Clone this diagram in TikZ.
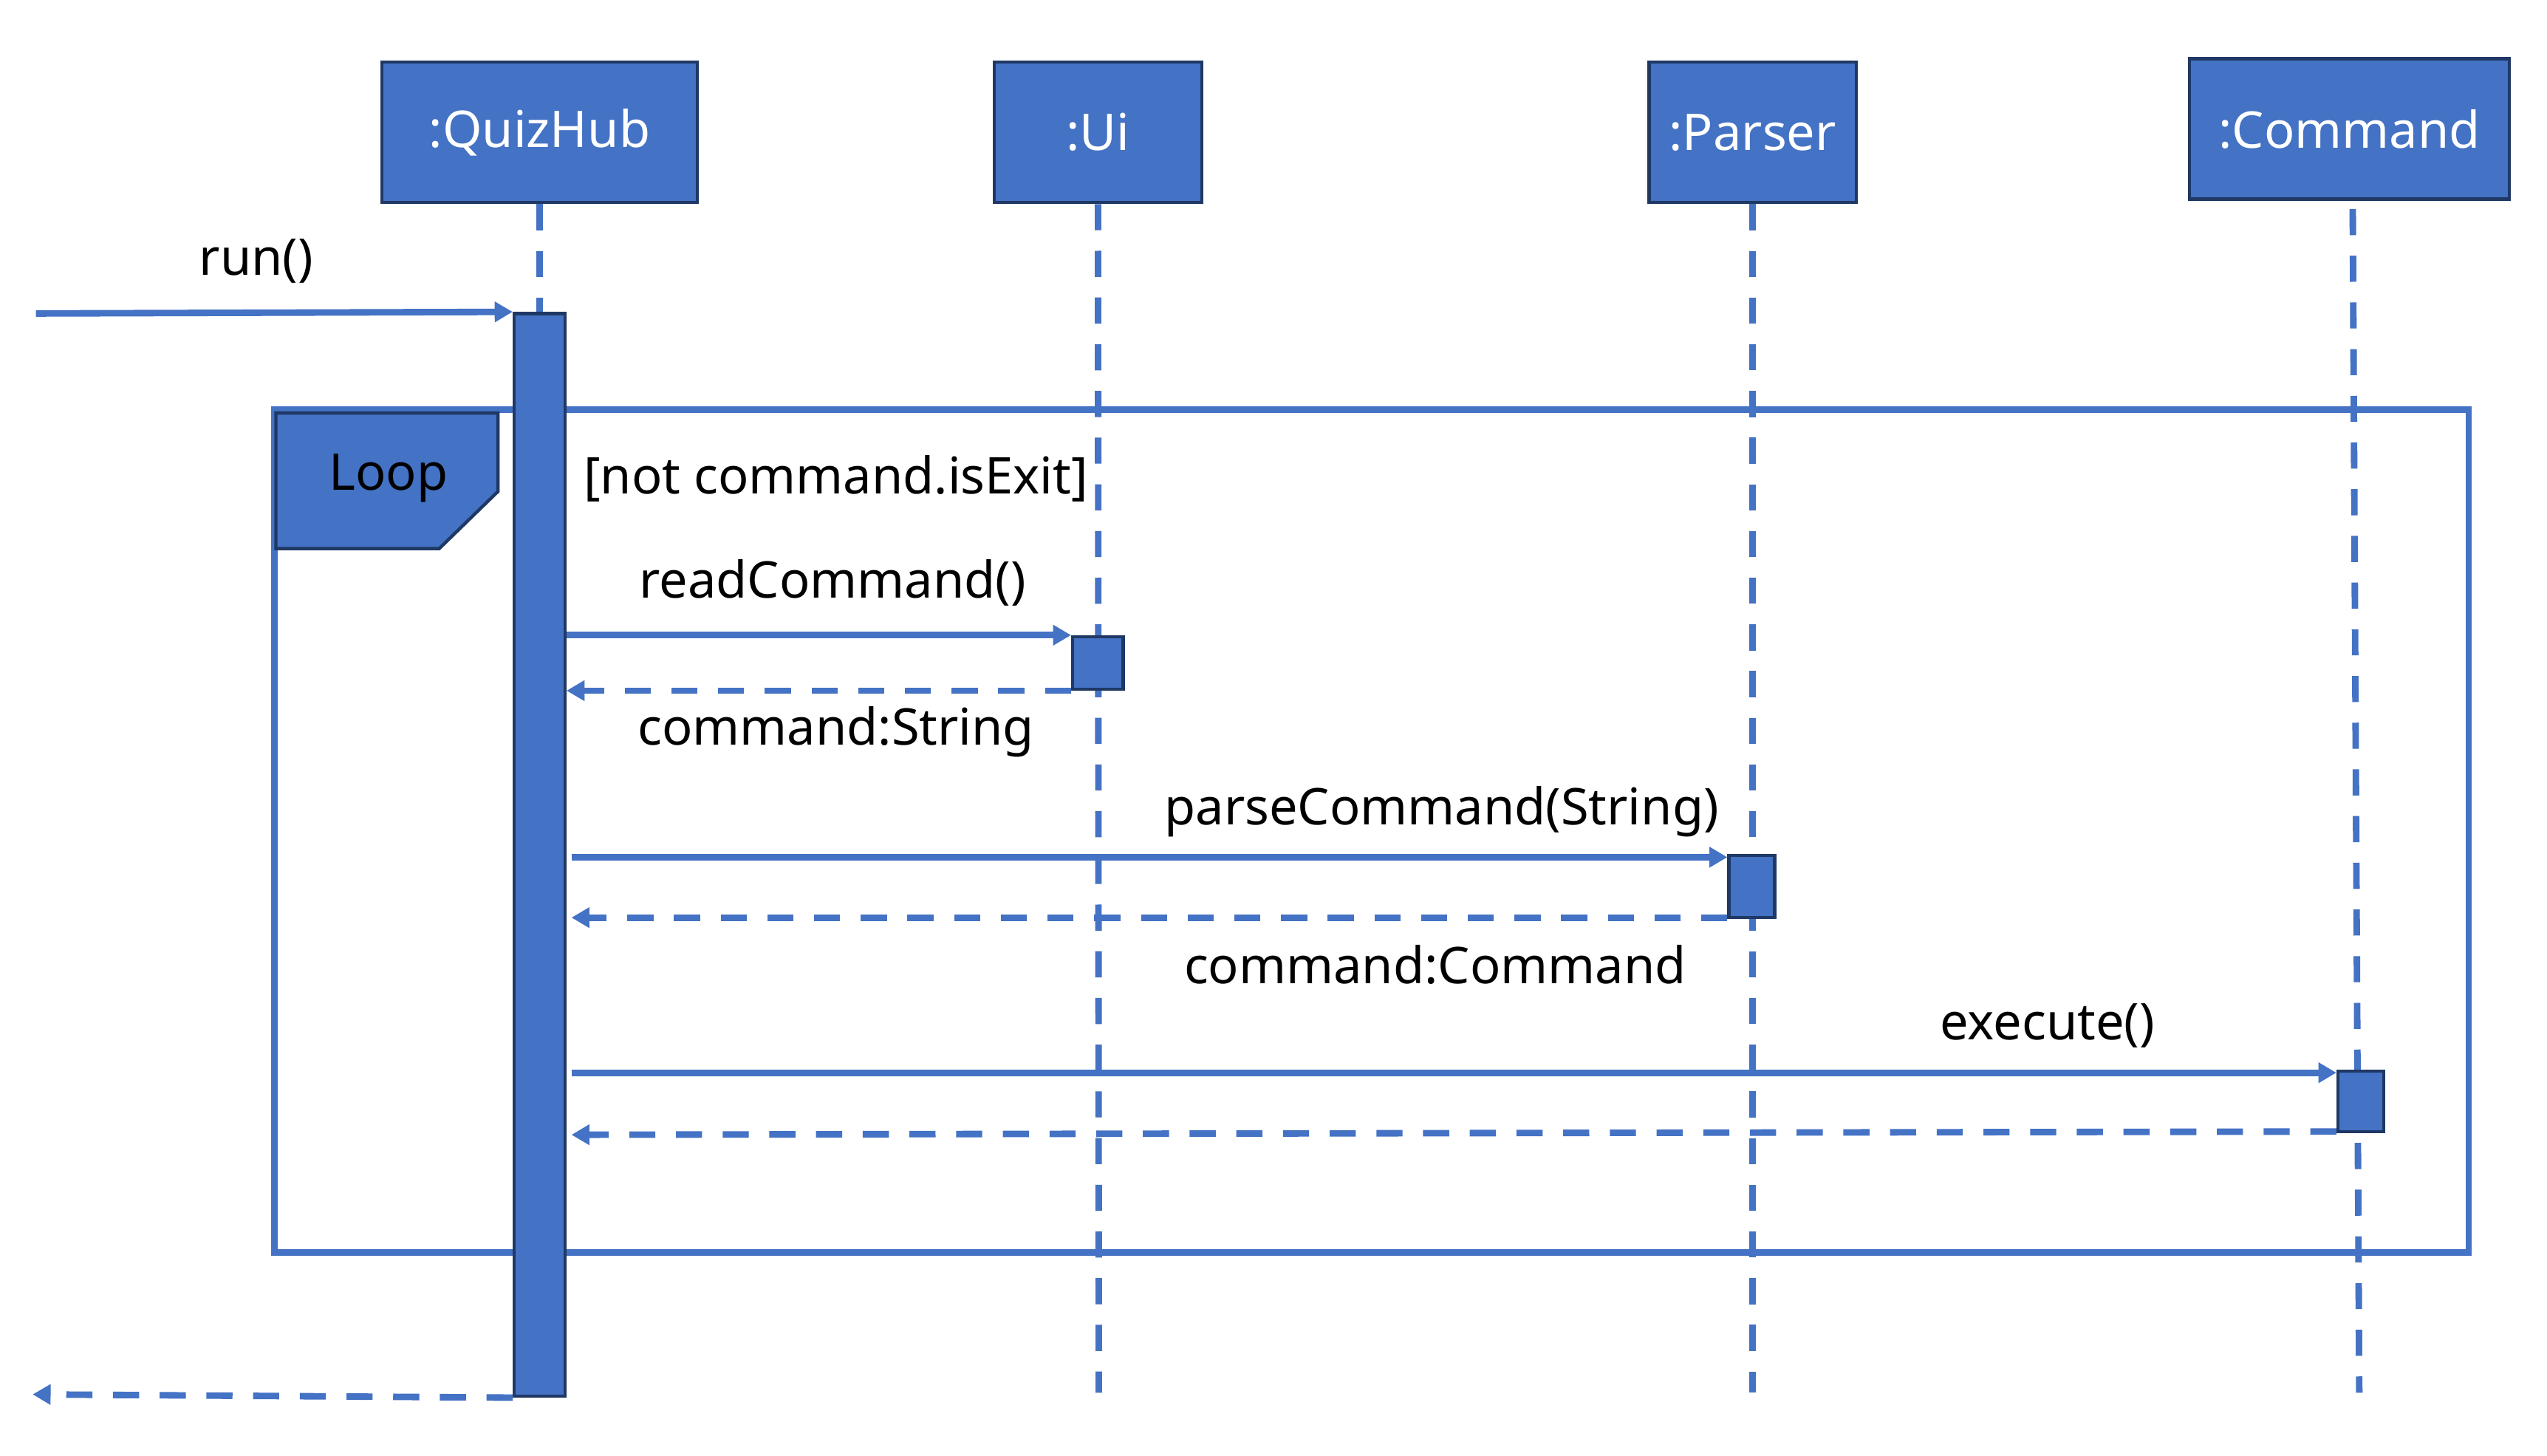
\documentclass[tikz,border=0pt]{standalone}
\usepackage{fontspec}
\setmainfont{Noto Sans}
\usetikzlibrary{arrows.meta,calc}
\definecolor{blu}{HTML}{4472C4}
\definecolor{dk}{HTML}{1F3864}
\tikzset{
  txt/.style={font=\fontsize{31}{37}\selectfont, inner sep=0pt},
  head/.style={txt, draw=dk, line width=2pt, fill=blu, text=white, minimum height=86pt},
  lifeline/.style={blu, line width=4pt, dash pattern=on 16pt off 12.6pt},
  act/.style={draw=dk, line width=2pt, fill=blu, inner sep=0pt},
  msg/.style={blu, line width=4pt, -{Triangle[width=12pt,length=11pt]}},
  ret/.style={msg, dash pattern=on 16pt off 12.6pt},
  lbl/.style={txt, text=black},
  frame/.style={draw=blu, line width=4pt, inner sep=0pt},
}
\begin{document}
\begin{tikzpicture}[x=1pt,y=-1pt]
\useasboundingbox (0,0) rectangle (1560,891.3);
% heads
\node[head, minimum width=193pt] (qh) at (330.5,81) {:QuizHub};
\node[head, minimum width=127pt] (ui) at (672.5,81) {:Ui};
\node[head, minimum width=127pt] (ps) at (1073.5,81) {:Parser};
\node[head, minimum width=196pt] (cm) at (1439,79) {:Command};
% lifeline ends
\coordinate (qhend) at (330.5,853);
\coordinate (uiend) at (673,853);
\coordinate (psend) at (1073.5,853);
\coordinate (cmtop) at (1441,128);
\coordinate (cmend) at (1445,853);
\draw[lifeline] (qh.south) -- (qhend);
\draw[lifeline] (ui.south) -- (uiend);
\draw[lifeline] (ps.south) -- (psend);
\draw[lifeline] (cmtop) -- (cmend);
% loop frame
\node[frame, minimum width=1344pt, minimum height=516pt] (loop) at (840,509) {};
\draw[fill=blu, draw=dk, line width=2pt] (169,253) -- (305,253) -- (305,301) -- (269,336) -- (169,336) -- cycle;
\node[lbl] (looplbl) at (238,293) {Loop};
\node[lbl] (guard) at (512,293) {[not command.isExit]};
% activations
\node[act, minimum width=31pt, minimum height=663pt] (qa) at (330.5,523.5) {};
\node[act, minimum width=31pt, minimum height=32pt] (ua) at (672.5,406) {};
\node[act, minimum width=28pt, minimum height=38pt] (pa) at (1073,543) {};
\node[act, minimum width=28pt, minimum height=37pt] (ca) at (1446,674.5) {};
% run
\coordinate (runst) at (22,192);
\draw[msg] (runst) -- (qa.north west);
\node[lbl] (runl) at (157,160) {run()};
% readCommand
\draw[msg] (qa.east |- ua.north west) -- (ua.north west);
\node[lbl] (rcl) at (510,357) {readCommand()};
\draw[ret] (ua.south west) -- (qa.east |- ua.south west);
\node[lbl] (csl) at (512,448) {command:String};
% parseCommand
\draw[msg] ($(qa.east |- pa.north west)+(3,2)$) -- ($(pa.north west)+(0,2)$);
\node[lbl] (pcl) at (883,497) {parseCommand(String)};
\draw[ret] ($(pa.south west)+(0,-1)$) -- ($(qa.east |- pa.south west)+(3,-1)$);
\node[lbl] (ccl) at (879,591) {command:Command};
% execute
\draw[msg] ($(qa.east |- ca.north west)+(3,2)$) -- ($(ca.north west)+(0,2)$);
\node[lbl] (exl) at (1254,628) {execute()};
\draw[ret] ($(ca.south west)+(0,-1)$) -- ($(qa.east |- ca.south west)+(3,1)$);
% final return
\coordinate (retend) at (20,854);
\draw[ret] (qa.south west) -- (retend);
\end{tikzpicture}
\end{document}
